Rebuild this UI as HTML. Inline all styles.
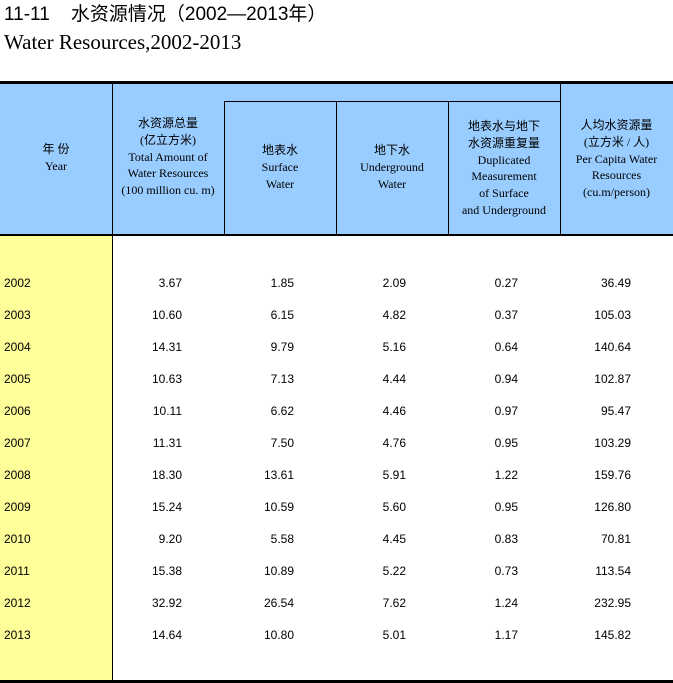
<!DOCTYPE html>
<html><head><meta charset="utf-8"><style>
body{margin:0;width:673px;height:683px;position:relative;background:#fff;overflow:hidden;font-family:"Liberation Sans","Noto Sans CJK SC",sans-serif}
.a{position:absolute}
.h{position:absolute;text-align:center;font-family:"Liberation Serif","Noto Sans CJK SC",serif;font-size:12px;line-height:16.8px;color:#000}
.r{position:absolute;font-size:12px;line-height:14px;color:#000}
.n{text-align:right;width:80px}
</style></head><body>
<div class="a" style="left:4px;top:3px;font-size:19px;line-height:24px;font-family:'Liberation Sans','Noto Sans CJK SC',sans-serif">11-11&nbsp;&nbsp;&nbsp; 水资源情况（2002—2013年）</div>
<div class="a" style="left:4px;top:29px;font-size:21px;line-height:26px;font-family:'Liberation Serif',serif">Water Resources,2002-2013</div>
<div class="a" style="left:0;top:81px;width:673px;height:3px;background:#000"></div>
<div class="a" style="left:0;top:84px;width:673px;height:150px;background:#99ccff"></div>
<div class="a" style="left:0;top:234px;width:673px;height:2px;background:#000"></div>
<div class="a" style="left:0;top:236px;width:112px;height:444px;background:#ffff99"></div>
<div class="a" style="left:0;top:680px;width:673px;height:3px;background:#000"></div>
<div class="a" style="left:112px;top:84px;width:1px;height:596px;background:#000"></div>
<div class="a" style="left:224px;top:101px;width:1px;height:133px;background:#000"></div>
<div class="a" style="left:336px;top:101px;width:1px;height:133px;background:#000"></div>
<div class="a" style="left:448px;top:101px;width:1px;height:133px;background:#000"></div>
<div class="a" style="left:560px;top:84px;width:1px;height:150px;background:#000"></div>
<div class="a" style="left:224px;top:101px;width:336px;height:1px;background:#000"></div>

<div class="h" style="left:0;width:112px;top:141px">年 份<br>Year</div>
<div class="h" style="left:112px;width:112px;top:115px">水资源总量<br>(亿立方米)<br>Total Amount of<br>Water Resources<br>(100 million cu. m)</div>
<div class="h" style="left:224px;width:112px;top:142px">地表水<br>Surface<br>Water</div>
<div class="h" style="left:336px;width:112px;top:142px">地下水<br>Underground<br>Water</div>
<div class="h" style="left:448px;width:112px;top:118px">地表水与地下<br>水资源重复量<br>Duplicated<br>Measurement<br>of Surface<br>and Underground</div>
<div class="h" style="left:560px;width:113px;top:117px">人均水资源量<br>(立方米 / 人)<br>Per Capita Water<br>Resources<br>(cu.m/person)</div>

<div id="rows"></div>
<script>
var d=[["2002","3.67","1.85","2.09","0.27","36.49"],["2003","10.60","6.15","4.82","0.37","105.03"],["2004","14.31","9.79","5.16","0.64","140.64"],["2005","10.63","7.13","4.44","0.94","102.87"],["2006","10.11","6.62","4.46","0.97","95.47"],["2007","11.31","7.50","4.76","0.95","103.29"],["2008","18.30","13.61","5.91","1.22","159.76"],["2009","15.24","10.59","5.60","0.95","126.80"],["2010","9.20","5.58","4.45","0.83","70.81"],["2011","15.38","10.89","5.22","0.73","113.54"],["2012","32.92","26.54","7.62","1.24","232.95"],["2013","14.64","10.80","5.01","1.17","145.82"]];
var R=[182,294,406,518,631],h="";
d.forEach(function(r,i){var t=276+i*32;h+='<div class="r" style="left:4px;top:'+t+'px">'+r[0]+'</div>';
for(var j=1;j<6;j++)h+='<div class="r n" style="left:'+(R[j-1]-80)+'px;top:'+t+'px">'+r[j]+'</div>';});
document.getElementById('rows').innerHTML=h;
</script>
</body></html>
